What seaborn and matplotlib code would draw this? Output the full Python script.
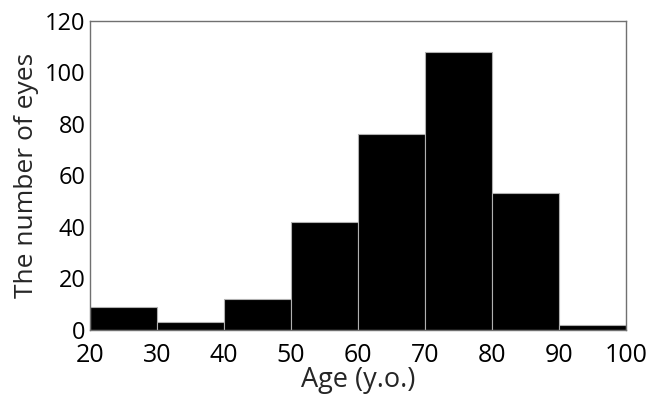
import matplotlib
matplotlib.use("Agg")
import matplotlib.pyplot as plt
import seaborn as sns
import pandas as pd

bin_starts = [20, 30, 40, 50, 60, 70, 80, 90]
counts = [9, 3, 12, 42, 76, 108, 53, 2]
x_ticks = [20, 30, 40, 50, 60, 70, 80, 90, 100]
y_ticks = [0, 20, 40, 60, 80, 100, 120]

sns.set_style("white")
plt.rcParams['font.family'] = ['Open Sans', 'DejaVu Sans']

df = pd.DataFrame({"age": [b + 5 for b in bin_starts], "n": counts})

fig = plt.figure(figsize=(6.46, 4.01), dpi=100)
ax = fig.add_axes([0.139, 0.177, 0.830, 0.771])
sns.histplot(data=df, x="age", weights="n", bins=x_ticks, ax=ax,
             color="black", edgecolor="#b0b0b0", linewidth=0.8, alpha=1)
ax.set_xlim(20, 100)
ax.set_ylim(0, 120)
ax.set_xticks(x_ticks)
ax.set_yticks(y_ticks)
ax.tick_params(axis="y", labelsize=17, length=0, pad=3, colors="black")
ax.tick_params(axis="x", labelsize=18, length=0, pad=9, colors="black")
for s in ax.spines.values():
    s.set_color("#707070")
    s.set_linewidth(1.0)
ax.set_xlabel("Age (y.o.)", fontsize=19.5, labelpad=-1)
ax.set_ylabel("The number of eyes", fontsize=19, labelpad=4)
fig.savefig("out.png", dpi=100)
